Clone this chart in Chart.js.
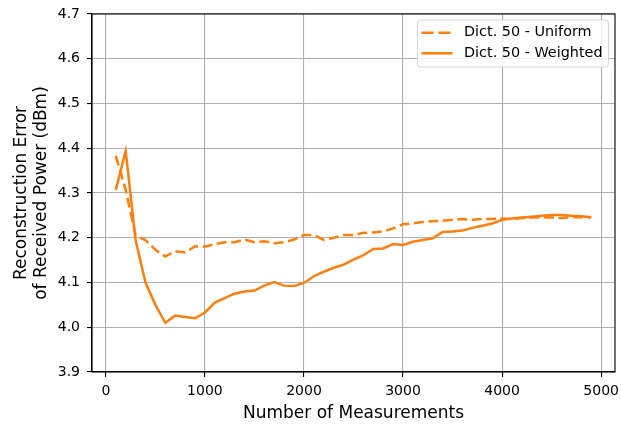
<!DOCTYPE html>
<html>
<head>
<meta charset="utf-8">
<script src="https://cdn.jsdelivr.net/npm/chart.js@4"></script>
<style>
  html, body { margin: 0; padding: 0; background: #fff; }
  #wrap { width: 621px; height: 427px; }
</style>
</head>
<body>
<div id="wrap"><canvas id="c" width="621" height="427"></canvas></div>
<script>
// Number of measurements at which each reconstruction was evaluated
const measurements = [100, 200, 300, 400, 500, 600, 700, 800, 900, 1000,
  1100, 1200, 1300, 1400, 1500, 1600, 1700, 1800, 1900, 2000,
  2100, 2200, 2300, 2400, 2500, 2600, 2700, 2800, 2900, 3000,
  3100, 3200, 3300, 3400, 3500, 3600, 3700, 3800, 3900, 4000,
  4100, 4200, 4300, 4400, 4500, 4600, 4700, 4800, 4900];

// Reconstruction error (dBm), uniform sampling
const uniformError = [4.383, 4.307, 4.205, 4.195, 4.173, 4.158, 4.170, 4.167, 4.181, 4.180,
  4.186, 4.190, 4.190, 4.196, 4.190, 4.192, 4.188, 4.190, 4.196, 4.206,
  4.206, 4.195, 4.200, 4.206, 4.206, 4.211, 4.212, 4.214, 4.221, 4.230,
  4.232, 4.235, 4.237, 4.238, 4.240, 4.242, 4.240, 4.242, 4.242, 4.243,
  4.242, 4.244, 4.245, 4.246, 4.245, 4.244, 4.246, 4.246, 4.246];

// Reconstruction error (dBm), weighted sampling
const weightedError = [4.307, 4.394, 4.195, 4.100, 4.050, 4.010, 4.026, 4.023, 4.020, 4.033,
  4.055, 4.065, 4.075, 4.080, 4.082, 4.093, 4.101, 4.093, 4.092, 4.099,
  4.114, 4.124, 4.133, 4.140, 4.151, 4.161, 4.175, 4.176, 4.186, 4.184,
  4.191, 4.195, 4.199, 4.213, 4.214, 4.216, 4.222, 4.227, 4.232, 4.240,
  4.243, 4.245, 4.247, 4.249, 4.251, 4.251, 4.249, 4.248, 4.246];

const seriesLabels = ['Dict. 50 - Uniform', 'Dict. 50 - Weighted'];
const xTicks = [0, 1000, 2000, 3000, 4000, 5000];
const yTicks = [3.9, 4.0, 4.1, 4.2, 4.3, 4.4, 4.5, 4.6, 4.7];

const ORANGE = '#ff7f0e';
const FONT = "'DejaVu Sans', sans-serif";

const toPoints = (ys) => measurements.map((m, i) => ({ x: m, y: ys[i] }));

// Black frame around the plotting area
const framePlugin = {
  id: 'frame',
  afterDatasetsDraw(chart) {
    const { ctx, chartArea: a } = chart;
    ctx.save();
    ctx.strokeStyle = '#000';
    ctx.lineWidth = 1.1;
    ctx.strokeRect(a.left, a.top, a.right - a.left, a.bottom - a.top);
    ctx.restore();
  }
};

// Boxed legend in the upper right corner of the plot
const boxLegendPlugin = {
  id: 'boxLegend',
  afterDraw(chart) {
    const { ctx, chartArea: a } = chart;
    const boxW = 191, boxH = 47;
    const x0 = a.right - 6.5 - boxW, y0 = a.top + 6;
    ctx.save();
    ctx.beginPath();
    if (ctx.roundRect) ctx.roundRect(x0, y0, boxW, boxH, 3); else ctx.rect(x0, y0, boxW, boxH);
    ctx.fillStyle = 'rgba(255,255,255,0.8)';
    ctx.fill();
    ctx.strokeStyle = 'rgba(204,204,204,0.8)';
    ctx.lineWidth = 1;
    ctx.stroke();
    ctx.font = '14.4px ' + FONT;
    ctx.textBaseline = 'middle';
    ctx.fillStyle = '#000';
    chart.data.datasets.forEach((ds, i) => {
      const cy = y0 + 12.7 + i * 20.6;
      ctx.beginPath();
      ctx.strokeStyle = ds.borderColor;
      ctx.lineWidth = ds.borderWidth;
      ctx.setLineDash(ds.borderDash ? [12, 5] : []);
      ctx.moveTo(x0 + 4, cy);
      ctx.lineTo(x0 + 35, cy);
      ctx.stroke();
      ctx.setLineDash([]);
      ctx.fillText(ds.label, x0 + 46.5, cy);
    });
    ctx.restore();
  }
};

new Chart(document.getElementById('c'), {
  type: 'line',
  data: {
    datasets: [
      {
        label: seriesLabels[0],
        data: toPoints(uniformError),
        borderColor: ORANGE,
        backgroundColor: ORANGE,
        borderWidth: 2.5,
        borderDash: [10, 4.5],
        pointRadius: 0,
        tension: 0,
        fill: false
      },
      {
        label: seriesLabels[1],
        data: toPoints(weightedError),
        borderColor: ORANGE,
        backgroundColor: ORANGE,
        borderWidth: 2.5,
        pointRadius: 0,
        tension: 0,
        fill: false
      }
    ]
  },
  options: {
    responsive: false,
    animation: false,
    devicePixelRatio: 1,
    layout: { padding: { top: 14, right: 6, bottom: 0, left: 0 } },
    plugins: {
      legend: { display: false },
      tooltip: { enabled: false }
    },
    scales: {
      x: {
        type: 'linear',
        min: -140,
        max: 5140,
        afterBuildTicks: (s) => { s.ticks = xTicks.map(v => ({ value: v })); },
        afterFit: (s) => { s.height = 55; s.paddingLeft = 0; s.paddingRight = 0; },
        grid: { color: '#b0b0b0', lineWidth: 1.1, tickColor: '#000', tickLength: 5, drawTicks: true },
        border: { display: true, color: '#000', width: 1.1 },
        ticks: {
          color: '#000',
          font: { family: FONT, size: 14 },
          padding: 6,
          maxRotation: 0,
          autoSkip: false,
          callback: (v) => String(v)
        },
        title: {
          display: true,
          text: 'Number of Measurements',
          color: '#000',
          font: { family: FONT, size: 17, lineHeight: 1.2 },
          padding: { top: 0, bottom: 3 }
        }
      },
      y: {
        type: 'linear',
        min: 3.9,
        max: 4.7,
        afterBuildTicks: (s) => { s.ticks = yTicks.map(v => ({ value: v })); },
        afterFit: (s) => { s.width = 92; s.paddingTop = 0; s.paddingBottom = 0; },
        grid: { color: '#b0b0b0', lineWidth: 1.1, tickColor: '#000', tickLength: 5, drawTicks: true },
        border: { display: true, color: '#000', width: 1.1 },
        ticks: {
          color: '#000',
          font: { family: FONT, size: 14 },
          padding: 7,
          autoSkip: false,
          callback: (v) => Number(v).toFixed(1)
        },
        title: {
          display: true,
          text: ['Reconstruction Error', 'of Received Power (dBm)'],
          color: '#000',
          font: { family: FONT, size: 17, lineHeight: 1.2 },
          padding: { top: 11, bottom: 0 }
        }
      }
    }
  },
  plugins: [framePlugin, boxLegendPlugin]
});
</script>
</body>
</html>
